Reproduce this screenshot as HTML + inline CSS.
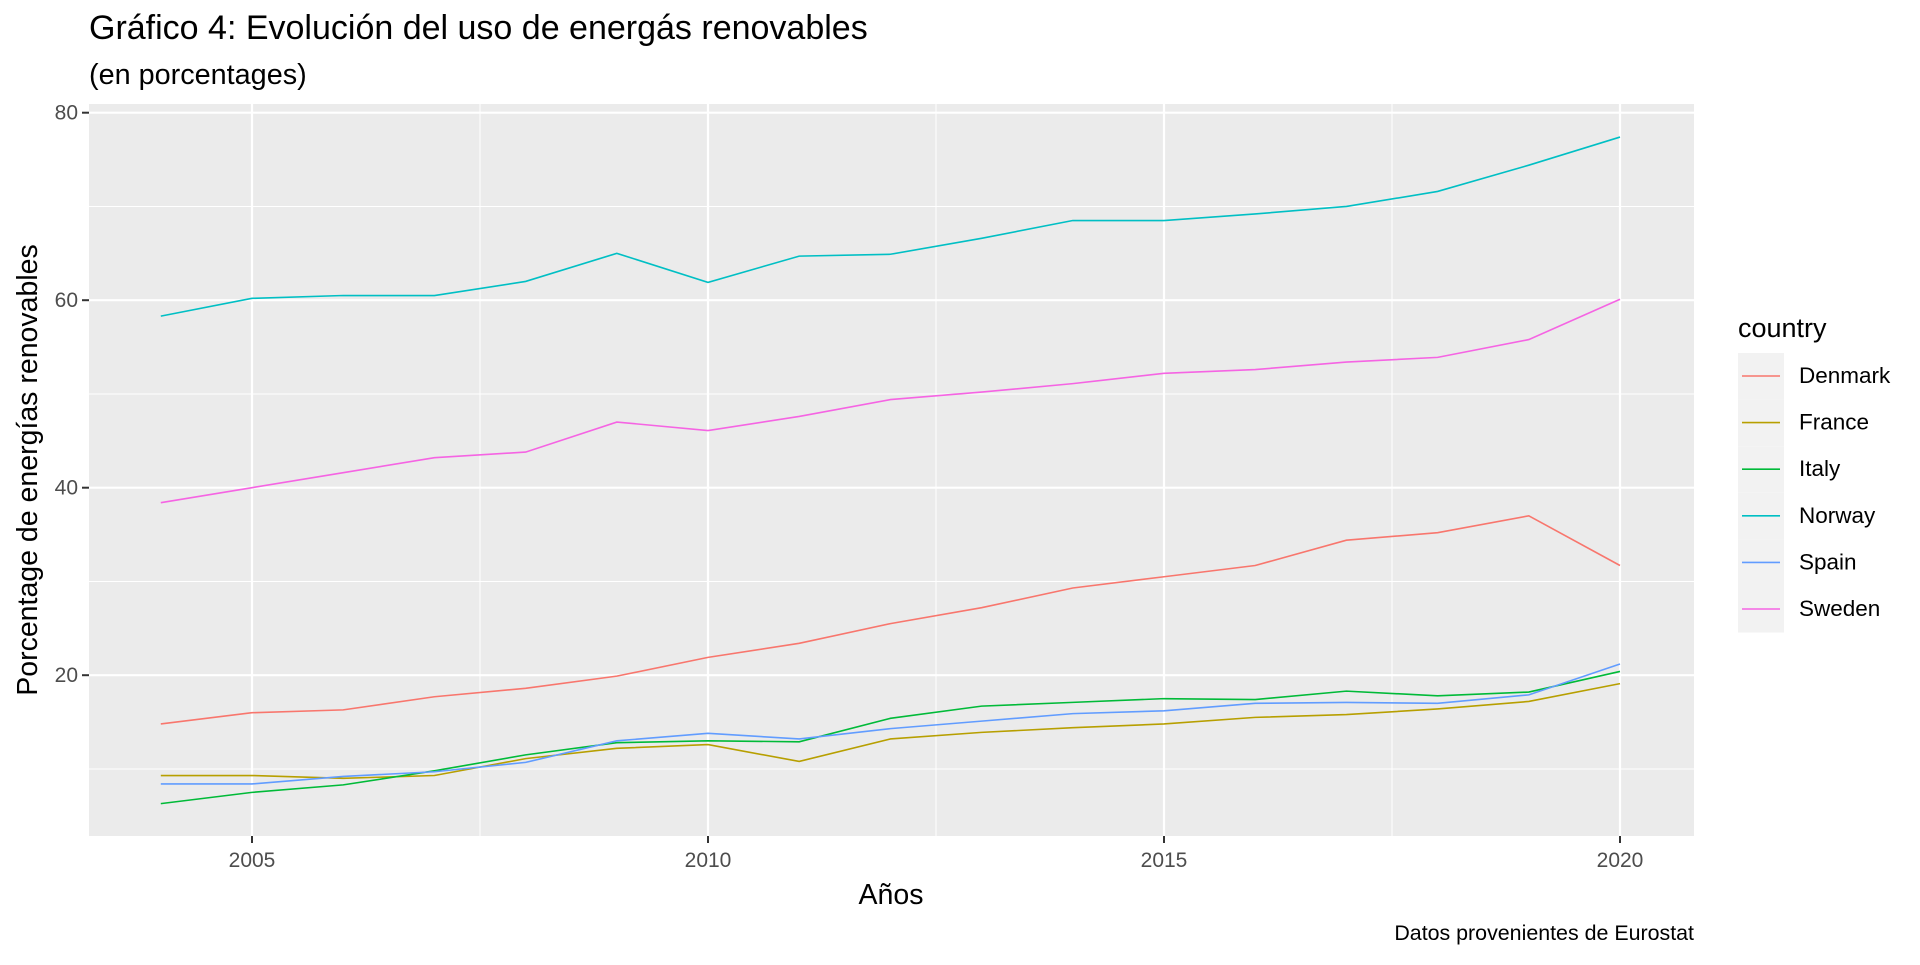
<!DOCTYPE html>
<html><head><meta charset="utf-8"><style>
body{margin:0;background:#fff;font-family:"Liberation Sans",Arial,sans-serif}
svg text{font-family:"Liberation Sans",Arial,sans-serif}
</style></head><body>
<svg id="chart" width="1920" height="960" viewBox="0 0 1920 960" xmlns="http://www.w3.org/2000/svg">
<rect width="1920" height="960" fill="#fff"/>
<text x="89" y="39" font-size="34" fill="#000">Gráfico 4: Evolución del uso de energás renovables</text>
<text x="89" y="84" font-size="28.8" fill="#000">(en porcentages)</text>
<rect x="89" y="104" width="1605" height="732" fill="#EBEBEB"/>
<g id="grid"></g><g id="series"></g><g id="axes"></g><g id="legend"></g>
<text x="891" y="904" font-size="28.5" text-anchor="middle" fill="#000">Años</text>
<text transform="translate(37,470) rotate(-90)" font-size="28.5" text-anchor="middle" fill="#000">Porcentage de energías renovables</text>
<text x="1694" y="940" font-size="21.4" text-anchor="end" fill="#000">Datos provenientes de Eurostat</text>
</svg>
<script>
const years=[2004,2005,2006,2007,2008,2009,2010,2011,2012,2013,2014,2015,2016,2017,2018,2019,2020];
const countries=["Denmark","France","Italy","Norway","Spain","Sweden"];
const colors=["#F8766D","#B79F00","#00BA38","#00BFC4","#619CFF","#F564E3"];
const denmark=[14.8,16.0,16.3,17.7,18.6,19.9,21.9,23.4,25.5,27.2,29.3,30.5,31.7,34.4,35.2,37.0,31.7];
const france=[9.3,9.3,9.0,9.3,11.1,12.2,12.6,10.8,13.2,13.9,14.4,14.8,15.5,15.8,16.4,17.2,19.1];
const italy=[6.3,7.5,8.3,9.8,11.5,12.8,13.0,12.9,15.4,16.7,17.1,17.5,17.4,18.3,17.8,18.2,20.4];
const norway=[58.3,60.2,60.5,60.5,62.0,65.0,61.9,64.7,64.9,66.6,68.5,68.5,69.2,70.0,71.6,74.4,77.4];
const spain=[8.4,8.4,9.2,9.7,10.7,13.0,13.8,13.2,14.3,15.1,15.9,16.2,17.0,17.1,17.0,17.9,21.2];
const sweden=[38.4,40.0,41.6,43.2,43.8,47.0,46.1,47.6,49.4,50.2,51.1,52.2,52.6,53.4,53.9,55.8,60.1];
const xTicks=[2005,2010,2015,2020];
const xMinor=[2007.5,2012.5,2017.5];
const yTicks=[20,40,60,80];
const yMinor=[10,30,50,70];
const series=[denmark,france,italy,norway,spain,sweden];
const NS="http://www.w3.org/2000/svg";
const X=v=>160.8+(v-2004)*91.2;
const Y=v=>112.7+(80-v)*9.375;
function mk(t,a,p){const e=document.createElementNS(NS,t);for(const k in a)e.setAttribute(k,a[k]);p.appendChild(e);return e;}
const grid=document.getElementById('grid'),axes=document.getElementById('axes'),sg=document.getElementById('series'),lg=document.getElementById('legend');
yMinor.forEach(v=>{const l=mk('line',{x1:89,x2:1694,y1:Y(v),y2:Y(v),stroke:'#fff','stroke-width':1},grid);

});
xMinor.forEach(v=>{const l=mk('line',{x1:X(v),x2:X(v),y1:104,y2:836,stroke:'#fff','stroke-width':1},grid);

});
yTicks.forEach(v=>{const l=mk('line',{x1:89,x2:1694,y1:Y(v),y2:Y(v),stroke:'#fff','stroke-width':2.2},grid);


const t=mk('line',{x1:82,x2:89,y1:Y(v),y2:Y(v),stroke:'#333','stroke-width':2},axes);


const tx=mk('text',{x:78,y:Y(v)+7,'font-size':21,'text-anchor':'end',fill:'#4D4D4D'},axes);tx.textContent=v;

});
xTicks.forEach(v=>{const l=mk('line',{x1:X(v),x2:X(v),y1:104,y2:836,stroke:'#fff','stroke-width':2.2},grid);


const t=mk('line',{x1:X(v),x2:X(v),y1:836,y2:843,stroke:'#333','stroke-width':2},axes);


const tx=mk('text',{x:X(v),y:867,'font-size':21,'text-anchor':'middle',fill:'#4D4D4D'},axes);tx.textContent=v;

});
series.forEach((s,i)=>{const p=mk('polyline',{points:s.map((v,j)=>X(years[j])+','+Y(v)).join(' '),fill:'none',stroke:colors[i],'stroke-width':1.6},sg);

});
const lt=mk('text',{x:1738,y:337,'font-size':27,fill:'#000'},lg);lt.textContent='country';


countries.forEach((c,i)=>{const cy=376+i*46.6;
const g=mk('g',{},lg);


mk('rect',{x:1738,y:cy-23,width:46,height:46.6,fill:'#F2F2F2'},g);
mk('line',{x1:1742,x2:1780,y1:cy,y2:cy,stroke:colors[i],'stroke-width':1.6},g);
const t=mk('text',{x:1799,y:cy+7,'font-size':22.5,fill:'#000'},g);t.textContent=c;});
</script>
</body></html>
